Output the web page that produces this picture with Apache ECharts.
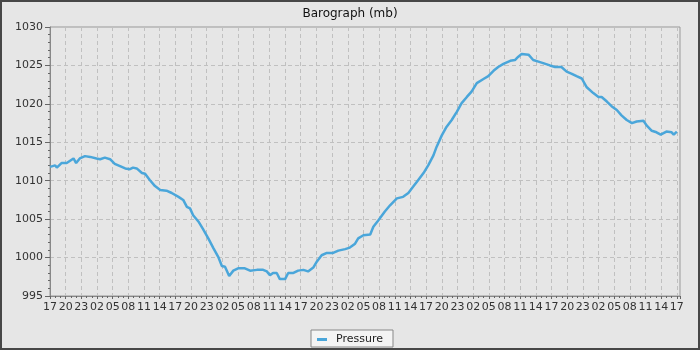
<!DOCTYPE html>
<html>
<head>
<meta charset="utf-8">
<script src="https://cdn.jsdelivr.net/npm/echarts@6/dist/echarts.min.js"></script>
<style>
html,body{margin:0;padding:0;background:#e6e6e6;}
#main{width:700px;height:350px;}
</style>
</head>
<body>
<div id="main"></div>
<script>
// hours since the first 17:00 reading
const hours = [0,1.0,1.3,2.2,3.2,4.5,5.0,5.7,6.7,7.7,8.9,9.6,10.5,11.5,12.4,13.4,14.4,15.3,15.9,16.6,17.6,18.2,19.1,20.1,21.1,22.3,23.3,24.6,25.5,26.2,26.8,27.4,28.4,29.3,30.3,31.3,32.2,32.9,33.5,34.3,35.1,36.0,37.3,38.3,39.6,40.8,41.5,42.1,42.7,43.4,44.0,45.0,45.6,46.6,47.5,48.5,49.4,50.4,51.1,52.0,53.0,54.2,55.2,56.5,57.4,58.4,59.0,60.0,61.3,61.9,62.8,64.1,65.1,66.4,67.6,68.6,69.5,70.5,71.5,72.4,73.4,74.0,75.0,75.9,76.9,77.9,78.8,79.8,80.7,81.7,82.9,83.9,84.9,85.8,86.8,88.1,89.0,89.6,90.3,91.6,92.5,93.5,94.4,95.7,96.7,97.9,98.9,99.9,100.8,101.8,102.7,104.0,105.0,105.6,106.6,107.5,108.5,109.4,110.4,111.4,112.3,113.6,114.2,115.2,116.1,116.9,118.0,119.0,119.4,120.0];
const pressure = [1011.8,1012.0,1011.7,1012.3,1012.3,1012.9,1012.3,1012.9,1013.2,1013.1,1012.9,1012.8,1013.0,1012.8,1012.2,1011.9,1011.6,1011.5,1011.7,1011.6,1011.0,1010.9,1010.1,1009.3,1008.8,1008.7,1008.4,1007.9,1007.5,1006.6,1006.4,1005.5,1004.7,1003.7,1002.5,1001.2,1000.1,998.9,998.8,997.6,998.3,998.6,998.6,998.3,998.4,998.4,998.2,997.7,998.0,998.0,997.2,997.2,998.0,998.0,998.3,998.4,998.2,998.7,999.5,1000.3,1000.6,1000.6,1000.9,1001.1,1001.3,1001.8,1002.5,1002.9,1003.0,1004.0,1004.8,1006.0,1006.8,1007.7,1007.9,1008.4,1009.2,1010.1,1011.0,1012.0,1013.3,1014.4,1015.9,1017.0,1017.9,1019.0,1020.1,1020.9,1021.6,1022.7,1023.2,1023.6,1024.3,1024.8,1025.2,1025.6,1025.7,1026.1,1026.5,1026.4,1025.7,1025.5,1025.3,1025.0,1024.8,1024.8,1024.2,1023.9,1023.6,1023.3,1022.2,1021.4,1020.9,1020.9,1020.3,1019.7,1019.2,1018.5,1017.9,1017.5,1017.7,1017.8,1017.2,1016.5,1016.3,1016.0,1016.4,1016.3,1016.0,1016.4];
const startHour = 17;
const seriesName = 'Pressure';
const titleText = 'Barograph (mb)';

const chart = echarts.init(document.getElementById('main'), null, {renderer: 'canvas'});
const font = 'DejaVu Sans';
chart.setOption({
  animation: false,
  backgroundColor: '#e6e6e6',
  textStyle: {fontFamily: font},
  title: {
    text: titleText, left: 'center', top: 3,
    textStyle: {fontFamily: font, fontSize: 12, fontWeight: 'normal', color: '#111'}
  },
  legend: {
    data: [seriesName], left: 'center', bottom: 3,
    icon: 'rect', itemWidth: 10, itemHeight: 3,
    padding: [4, 10, 2, 6],
    backgroundColor: '#f4f4f4', borderColor: '#888', borderWidth: 1, borderRadius: 0,
    textStyle: {fontFamily: font, fontSize: 11, color: '#222', padding: [0, 0, 0, 4]}
  },
  graphic: [{
    type: 'rect', silent: true, z: 100,
    shape: {x: 1, y: 1, width: 698, height: 348},
    style: {fill: 'none', stroke: '#474747', lineWidth: 2}
  }],
  grid: {
    left: 50, right: 20, top: 27, bottom: 54,
    show: true, borderColor: '#999', borderWidth: 1, backgroundColor: 'transparent'
  },
  xAxis: {
    type: 'value', min: 0, max: 120.6, interval: 3,
    axisLine: {lineStyle: {color: '#888'}},
    axisTick: {show: true, length: 3, lineStyle: {color: '#666'}},
    minorTick: {show: true, splitNumber: 3, length: 2, lineStyle: {color: '#666'}},
    splitLine: {show: true, lineStyle: {color: '#c0c0c0', type: [4, 3]}},
    axisLabel: {
      margin: 6, fontSize: 11, color: '#333', fontFamily: font,
      showMaxLabel: false,
      formatter: v => (Math.abs(v % 3) > 1e-6) ? '' : String((startHour + v) % 24).padStart(2, '0')
    }
  },
  yAxis: {
    type: 'value', min: 995, max: 1030, interval: 5,
    axisLine: {show: true, lineStyle: {color: '#888'}},
    axisTick: {show: true, length: 5, lineStyle: {color: '#666'}},
    minorTick: {show: true, splitNumber: 5, length: 2, lineStyle: {color: '#666'}},
    splitLine: {show: true, lineStyle: {color: '#c0c0c0', type: [4, 3]}},
    axisLabel: {margin: 7, fontSize: 11, color: '#333', fontFamily: font, formatter: v => String(v)}
  },
  series: [{
    name: seriesName, type: 'line',
    data: hours.map((h, i) => [h, pressure[i]]),
    showSymbol: false, symbol: 'none',
    lineStyle: {color: '#4aa6da', width: 2.5},
    itemStyle: {color: '#4aa6da'}
  }]
});
</script>
</body>
</html>
